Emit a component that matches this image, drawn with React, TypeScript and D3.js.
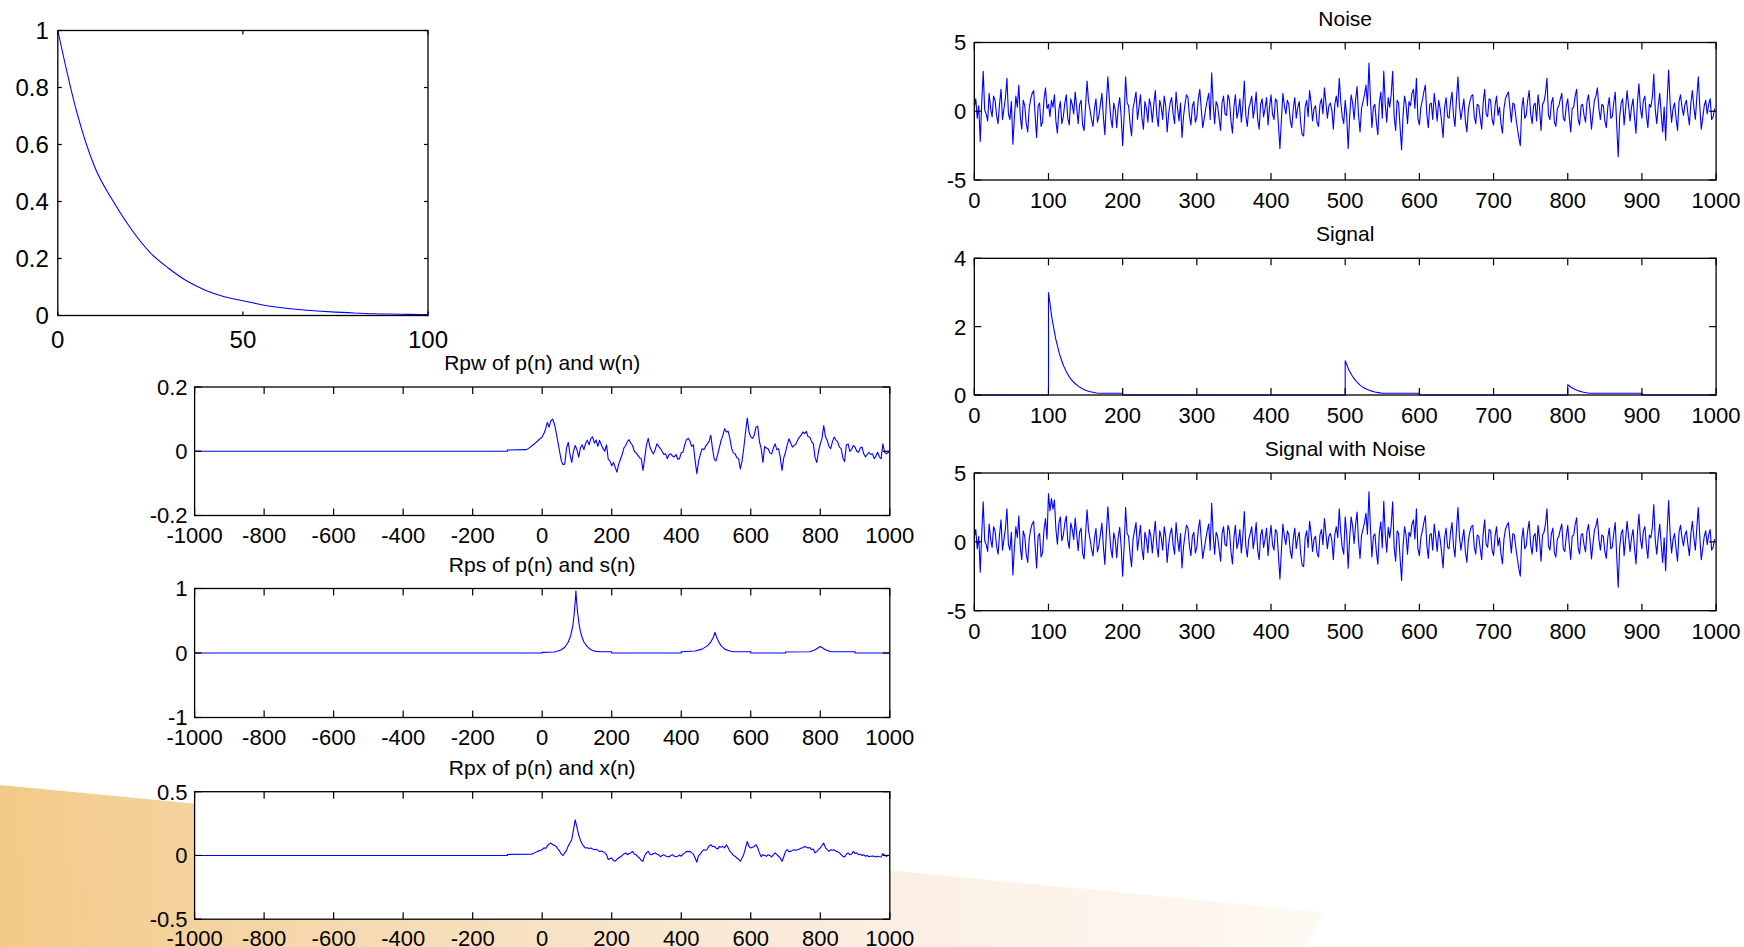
import React from 'react';
import * as d3 from 'd3';

const FONT = '"Liberation Sans", Arial, Helvetica, sans-serif';

// ---------- Data ----------
// Exponential kernel p(n), n = 0..100 step 5
const DECAY_N = [0, 5, 10, 15, 20, 25, 30, 35, 40, 45, 50, 55, 60, 65, 70, 75, 80, 85, 90, 95, 100];
const DECAY_VALUES = [1.0, 0.72, 0.52, 0.4, 0.3, 0.22, 0.165, 0.12, 0.088, 0.066, 0.052, 0.038, 0.028, 0.021, 0.016, 0.012, 0.009, 0.006, 0.005, 0.004, 0.003];

// Rpw: head (negative lags) + values every 5 lags from 0 to 1000
const RPW_HEAD_LAGS = [-1000, -100, -100, -45, -35, -20, -10];
const RPW_HEAD_VALUES = [0, 0, 0.004, 0.005, 0.012, 0.025, 0.035];
const RPW_STEP = 5;
const RPW_VALUES = [
  0.045, 0.055, 0.07, 0.09, 0.075, 0.095, 0.1, 0.085, 0.06, 0.03,
  0.0, -0.03, -0.042, -0.04, 0.01, 0.028, -0.01, -0.035, 0.0, 0.018,
  0.005, -0.018, 0.01, 0.02, 0.005, 0.025, 0.034, 0.02, 0.04, 0.045,
  0.025, 0.035, 0.015, 0.034, 0.02, 0.008, 0.0, 0.02, -0.025, -0.03,
  -0.045, -0.035, -0.05, -0.065, -0.04, -0.025, -0.01, 0.01, 0.018, 0.03,
  0.036, 0.025, 0.018, 0.0, -0.005, -0.012, -0.02, -0.023, -0.06, -0.02,
  0.02, 0.04, 0.013, 0.0, -0.008, 0.005, 0.023, 0.015, 0.008, 0.0,
  -0.01, -0.008, -0.023, -0.01, -0.008, -0.015, -0.018, -0.01, -0.025, -0.023,
  -0.005, -0.003, 0.02, 0.036, 0.04, 0.032, 0.015, 0.02, -0.03, -0.07,
  -0.03, -0.01, 0.008, 0.005, 0.015, 0.023, 0.03, 0.05, 0.008, -0.025,
  -0.03, -0.01, 0.013, 0.035, 0.05, 0.07, 0.06, 0.062, 0.04, 0.008,
  -0.005, -0.008, -0.02, -0.023, -0.055, -0.03, 0.01, 0.06, 0.103, 0.06,
  0.045, 0.04, 0.05, 0.075, 0.078, 0.03, 0.008, -0.035, 0.015, 0.01,
  0.008, -0.005, -0.008, 0.01, 0.023, 0.005, 0.008, -0.02, -0.06, -0.02,
  -0.003, 0.02, 0.039, 0.025, 0.013, 0.018, 0.023, 0.035, 0.044, 0.05,
  0.06, 0.055, 0.062, 0.045, 0.044, 0.03, 0.023, -0.02, -0.035, 0.0,
  0.023, 0.04, 0.08, 0.045, 0.034, 0.015, 0.008, 0.03, 0.044, 0.035,
  0.029, 0.013, 0.008, -0.02, -0.032, 0.02, 0.023, 0.0, 0.005, 0.018,
  0.013, 0.0, -0.003, 0.01, 0.013, -0.008, -0.018, -0.01, -0.003, -0.01,
  -0.008, -0.023, -0.015, -0.003, -0.018, -0.023, 0.023, -0.003, -0.008, -0.003,
  -0.005,
];

// Rps: cross-correlation of p(n) and s(n)
const RPS_LAGS = [-1000, 0, 0, 20, 35, 45, 55, 65, 75, 82, 88, 92, 95, 97, 99, 102, 106, 110, 115, 120, 128, 135, 145, 155, 170, 200, 200, 400, 400, 440, 460, 475, 485, 492, 497, 502, 508, 515, 525, 540, 550, 600, 600, 700, 700, 770, 785, 800, 815, 830, 900, 900, 1000];
const RPS_VALUES = [0, 0, 0.01, 0.012, 0.015, 0.03, 0.05, 0.09, 0.17, 0.27, 0.42, 0.6, 0.8, 0.96, 0.8, 0.62, 0.45, 0.33, 0.24, 0.17, 0.11, 0.07, 0.04, 0.025, 0.02, 0.02, 0, 0, 0.02, 0.03, 0.06, 0.11, 0.17, 0.24, 0.32, 0.24, 0.17, 0.11, 0.06, 0.03, 0.02, 0.02, 0, 0, 0.015, 0.02, 0.05, 0.1, 0.05, 0.02, 0.02, 0, 0];

// Rpx: head (negative lags) + values every 5 lags from 0 to 1000
const RPX_HEAD_LAGS = [-1000, -100, -100, -30, -15, -5];
const RPX_HEAD_VALUES = [0, 0, 0.008, 0.01, 0.03, 0.04];
const RPX_STEP = 5;
const RPX_VALUES = [
  0.045, 0.06, 0.055, 0.075, 0.09, 0.097, 0.085, 0.08, 0.071, 0.05,
  0.035, 0.01, 0.0, 0.02, 0.04, 0.075, 0.1, 0.123, 0.2, 0.28,
  0.22, 0.16, 0.12, 0.09, 0.07, 0.058, 0.06, 0.055, 0.058, 0.05,
  0.045, 0.048, 0.04, 0.032, 0.035, 0.03, 0.02, 0.006, -0.032, -0.025,
  -0.02, -0.04, -0.045, -0.03, -0.02, -0.01, 0.0, 0.012, 0.02, 0.006,
  0.015, 0.02, 0.032, 0.01, 0.006, -0.01, -0.02, -0.04, -0.045, 0.0,
  0.02, 0.032, 0.01, 0.005, 0.015, 0.02, 0.01, 0.005, -0.01, 0.0,
  0.006, -0.005, -0.006, -0.012, 0.0, 0.006, -0.006, -0.01, -0.006, 0.005,
  -0.006, 0.01, 0.02, 0.032, 0.03, 0.032, 0.02, 0.01, -0.02, -0.053,
  0.0, 0.01, 0.032, 0.045, 0.04, 0.05, 0.075, 0.084, 0.07, 0.071,
  0.058, 0.05, 0.071, 0.065, 0.071, 0.06, 0.084, 0.06, 0.032, 0.02,
  0.0, -0.006, -0.02, -0.03, -0.045, -0.02, 0.01, 0.06, 0.11, 0.07,
  0.058, 0.065, 0.071, 0.084, 0.06, 0.02, -0.01, 0.006, 0.0, -0.006,
  0.006, 0.0, -0.012, 0.005, 0.02, 0.006, -0.006, -0.02, -0.045, -0.01,
  0.032, 0.045, 0.03, 0.032, 0.04, 0.045, 0.04, 0.045, 0.05, 0.058,
  0.06, 0.071, 0.065, 0.058, 0.062, 0.045, 0.05, 0.02, 0.032, 0.045,
  0.06, 0.08, 0.097, 0.06, 0.045, 0.032, 0.045, 0.04, 0.045, 0.032,
  0.03, 0.02, 0.006, -0.006, -0.012, 0.01, 0.02, 0.006, 0.01, 0.032,
  0.015, 0.02, 0.006, 0.01, 0.0, 0.006, -0.006, 0.0, -0.01, -0.006,
  -0.005, -0.006, -0.012, -0.006, -0.01, -0.012, 0.015, 0.0, -0.006, 0.0,
  0.0,
];

// Noise w(n), one value every 2 samples
const NOISE_STEP = 2;
const NOISE = [
  0.3, 0.9, -0.5, 0.4, -2.2, 0.6, 2.9, 0.1, -0.2, -0.7, 1.3, 0.2, -0.4, 1.1, 0.8, -0.3, -0.9, 0.5, 1.6, -0.6,
  0.2, 1.0, 2.4, -0.2, -0.6, 0.7, -2.4, -0.5, 1.1, 0.3, 1.9, -0.4, -1.3, 0.8, 0.4, -0.9, -1.5, 0.2, 0.9, 1.3,
  1.5, -0.3, -1.9, 0.4, 0.6, -1.1, -0.8, 0.9, 1.7, 0.2, 0.5, -0.4, 0.8, 0.3, 1.2, -0.7, -1.6, 0.1, 0.7, -0.9,
  -0.4, 0.6, 1.2, -0.5, -1.0, 0.9, 0.5, -0.2, 1.4, 0.3, -0.9, 0.5, 0.8, -1.0, -1.4, 0.4, 2.2, 0.7, 0.1, -0.6,
  -1.1, 0.2, 0.9, -0.8, -0.3, 0.5, 1.3, -0.4, -1.7, 0.6, 2.5, 0.9, -0.5, -1.2, 0.6, 0.1, -1.2, 0.3, 1.0, -0.4,
  -2.5, -0.3, 2.5, 0.6, 0.4, -0.9, -1.8, 0.2, 0.8, 1.4, -0.6, 0.3, 1.2, -0.5, -1.3, 0.7, 0.2, -0.8, 0.9, 0.4,
  -0.8, 0.5, 1.5, -0.3, -1.1, 0.8, 0.3, -0.6, 1.1, 0.4, -1.5, -0.2, 0.6, 1.0, -0.2, -0.9, 1.4, 0.2, -0.7, 0.6,
  -1.9, -0.4, 0.5, 1.2, 1.0, -0.3, -1.0, 0.4, 0.7, -0.8, -0.4, 0.9, 1.6, 0.1, -1.2, -0.5, 0.2, 0.8, 1.3, -0.6,
  2.8, 0.5, -0.9, 0.7, 0.4, -0.5, -1.4, 0.6, 1.1, -0.2, -0.3, 1.2, 0.8, -0.7, -1.6, 0.3, 1.2, -0.5, 0.0, 0.9,
  -0.8, 0.4, 2.2, -0.3, -1.1, 0.2, 0.6, 1.1, -0.5, 0.3, 1.4, -0.6, -1.3, 0.5, 0.9, -0.4, 0.2, 1.0, -1.0, 0.3,
  1.2, -0.2, -0.6, 0.9, 0.7, -1.0, -2.7, -0.6, 1.3, 0.4, -0.2, 0.8, 0.5, -0.7, -1.2, 0.2, 1.0, -0.5, 0.3, 0.7,
  -0.9, -1.7, -1.8, 0.3, 0.8, -0.4, 1.5, 0.6, -0.7, 0.2, 0.4, -0.8, -1.1, 0.5, 0.9, -0.2, 1.7, 0.6, -0.5, 0.4,
  0.6, 0.1, -1.3, 0.5, 1.1, 0.3, 2.4, 0.7, -0.4, -0.9, 0.8, -0.3, -2.7, -0.4, 1.2, 0.6, -0.6, 0.8, 1.8, -0.3,
  -1.5, 0.2, 0.7, 1.2, 1.9, 0.4, 3.5, 0.9, -1.2, 0.3, 0.5, -0.8, -1.7, 0.6, 1.4, -0.5, 2.9, 0.5, -0.8, 1.0,
  0.3, 1.2, 2.9, -0.4, -1.4, 0.8, 0.6, -1.2, -2.8, -0.3, 1.1, 0.5, -0.9, 0.7, 0.4, 1.3, 1.6, 0.2, 2.4, -0.5,
  -1.0, 0.3, 0.8, 1.4, 1.9, -0.2, -1.2, 0.5, 0.6, -0.6, 1.3, 0.4, -0.7, 0.8, 0.2, -0.8, -1.9, 0.3, 1.0, -0.4,
  -0.5, 0.7, 1.4, -0.3, -1.1, 0.9, 2.5, 0.4, -0.6, 0.2, 0.9, -0.7, -1.5, 0.1, 0.7, 1.1, 1.2, -0.4, -0.9, 0.5,
  0.4, -0.5, -1.3, 0.6, 1.6, -0.2, -0.4, 0.9, 0.8, -0.6, -1.0, 0.4, 1.1, -0.3, 0.3, -0.9, -1.6, 0.2, 0.9, 1.2,
  1.4, 0.3, -0.8, 0.6, 0.5, -0.4, -1.2, -1.9, -2.5, 0.2, 1.0, -0.5, -0.3, 0.8, 1.5, -0.2, -0.9, 0.4, 0.6, -0.7,
  1.2, 0.2, -1.4, 0.5, 0.7, 1.3, 2.4, -0.3, -0.6, 0.6, 1.0, -0.8, -1.1, 0.2, 0.4, 0.9, 1.3, -0.5, -0.7, 0.4,
  0.9, -0.4, -1.5, 0.2, 0.3, 1.1, 1.6, -0.6, -1.0, 0.4, 0.5, -0.3, -0.8, 0.7, 1.2, 0.1, -1.3, -0.2, 0.8, 1.1,
  1.7, 0.2, -0.6, 0.5, 0.4, -0.7, -1.2, 0.3, 1.0, -0.5, -0.4, 0.6, 1.4, -1.0, -3.3, -0.4, 0.6, 0.9, -1.0, 0.2,
  1.5, 0.4, -0.7, 0.3, 0.9, -0.5, -1.6, 0.7, 2.0, 0.2, -0.5, 0.8, 1.1, -0.3, -1.2, 0.5, 0.3, 1.0, 2.7, 0.1,
  -0.9, 0.4, 1.3, -0.2, -1.5, 0.3, -2.1, 0.8, 3.0, 0.6, -0.8, 0.2, 0.6, -0.5, -1.4, 0.7, 1.2, 0.3, -0.3, 0.5,
  0.8, -0.2, -1.0, 0.6, 1.5, 0.3, -0.6, 1.0, 2.5, 0.4, -1.3, -0.5, 0.4, 0.8, -0.2, 0.5, 0.9, -0.6, -0.4, 0.2,
];

// Signal s(n): breakpoints
const SIGNAL_N = [0, 100, 100, 105, 110, 115, 120, 125, 130, 135, 140, 145, 150, 155, 160, 165, 170, 200, 200,
  500, 500, 505, 510, 515, 520, 525, 530, 535, 540, 545, 550, 600, 600,
  800, 800, 805, 810, 815, 820, 825, 830, 900, 900, 1000];
const SIGNAL_VALUES = [0, 0, 3.0, 2.2, 1.62, 1.19, 0.87, 0.64, 0.47, 0.35, 0.26, 0.19, 0.14, 0.1, 0.08, 0.06, 0.05, 0.05, 0,
  0, 1.0, 0.73, 0.54, 0.4, 0.29, 0.21, 0.16, 0.12, 0.09, 0.07, 0.05, 0.05, 0,
  0, 0.3, 0.22, 0.16, 0.12, 0.09, 0.065, 0.05, 0.05, 0, 0];

// Signal with noise x(n), one value every 2 samples
const SWN_STEP = 2;
const SIGNAL_WITH_NOISE = [
  0.3, 0.9, -0.5, 0.4, -2.2, 0.6, 2.9, 0.1, -0.2, -0.7, 1.3, 0.2, -0.4, 1.1, 0.8, -0.3, -0.9, 0.5, 1.6, -0.6,
  0.2, 1.0, 2.4, -0.2, -0.6, 0.7, -2.4, -0.5, 1.1, 0.3, 1.9, -0.4, -1.3, 0.8, 0.4, -0.9, -1.5, 0.2, 0.9, 1.3,
  1.5, -0.3, -1.9, 0.4, 0.6, -1.1, -0.8, 0.9, 1.7, 0.2, 3.5, 2.25, 3.14, 2.37, 3.03, 0.92, -0.17, 1.36, 1.81, 0.08,
  0.47, 1.37, 1.88, 0.1, -0.47, 1.37, 0.91, 0.16, 1.72, 0.58, -0.65, 0.72, 1.0, -0.83, -1.25, 0.54, 2.32, 0.81, 0.2, -0.51,
  -1.02, 0.28, 0.97, -0.73, -0.24, 0.56, 1.36, -0.35, -1.65, 0.65, 2.55, 0.95, -0.45, -1.15, 0.65, 0.15, -1.15, 0.35, 1.05, -0.35,
  -2.5, -0.3, 2.5, 0.6, 0.4, -0.9, -1.8, 0.2, 0.8, 1.4, -0.6, 0.3, 1.2, -0.5, -1.3, 0.7, 0.2, -0.8, 0.9, 0.4,
  -0.8, 0.5, 1.5, -0.3, -1.1, 0.8, 0.3, -0.6, 1.1, 0.4, -1.5, -0.2, 0.6, 1.0, -0.2, -0.9, 1.4, 0.2, -0.7, 0.6,
  -1.9, -0.4, 0.5, 1.2, 1.0, -0.3, -1.0, 0.4, 0.7, -0.8, -0.4, 0.9, 1.6, 0.1, -1.2, -0.5, 0.2, 0.8, 1.3, -0.6,
  2.8, 0.5, -0.9, 0.7, 0.4, -0.5, -1.4, 0.6, 1.1, -0.2, -0.3, 1.2, 0.8, -0.7, -1.6, 0.3, 1.2, -0.5, 0.0, 0.9,
  -0.8, 0.4, 2.2, -0.3, -1.1, 0.2, 0.6, 1.1, -0.5, 0.3, 1.4, -0.6, -1.3, 0.5, 0.9, -0.4, 0.2, 1.0, -1.0, 0.3,
  1.2, -0.2, -0.6, 0.9, 0.7, -1.0, -2.7, -0.6, 1.3, 0.4, -0.2, 0.8, 0.5, -0.7, -1.2, 0.2, 1.0, -0.5, 0.3, 0.7,
  -0.9, -1.7, -1.8, 0.3, 0.8, -0.4, 1.5, 0.6, -0.7, 0.2, 0.4, -0.8, -1.1, 0.5, 0.9, -0.2, 1.7, 0.6, -0.5, 0.4,
  0.6, 0.1, -1.3, 0.5, 1.1, 0.3, 2.4, 0.7, -0.4, -0.9, 1.8, 0.58, -1.92, 0.29, 1.81, 1.14, -0.12, 1.22, 2.17, 0.03,
  -1.21, 0.46, 0.93, 1.4, 2.08, 0.56, 3.64, 1.02, -1.09, 0.4, 0.59, -0.72, -1.63, 0.66, 1.45, -0.45, 2.95, 0.55, -0.75, 1.05,
  0.3, 1.2, 2.9, -0.4, -1.4, 0.8, 0.6, -1.2, -2.8, -0.3, 1.1, 0.5, -0.9, 0.7, 0.4, 1.3, 1.6, 0.2, 2.4, -0.5,
  -1.0, 0.3, 0.8, 1.4, 1.9, -0.2, -1.2, 0.5, 0.6, -0.6, 1.3, 0.4, -0.7, 0.8, 0.2, -0.8, -1.9, 0.3, 1.0, -0.4,
  -0.5, 0.7, 1.4, -0.3, -1.1, 0.9, 2.5, 0.4, -0.6, 0.2, 0.9, -0.7, -1.5, 0.1, 0.7, 1.1, 1.2, -0.4, -0.9, 0.5,
  0.4, -0.5, -1.3, 0.6, 1.6, -0.2, -0.4, 0.9, 0.8, -0.6, -1.0, 0.4, 1.1, -0.3, 0.3, -0.9, -1.6, 0.2, 0.9, 1.2,
  1.4, 0.3, -0.8, 0.6, 0.5, -0.4, -1.2, -1.9, -2.5, 0.2, 1.0, -0.5, -0.3, 0.8, 1.5, -0.2, -0.9, 0.4, 0.6, -0.7,
  1.2, 0.2, -1.4, 0.5, 0.7, 1.3, 2.4, -0.3, -0.6, 0.6, 1.0, -0.8, -1.1, 0.2, 0.4, 0.9, 1.3, -0.5, -0.7, 0.4,
  1.2, -0.14, -1.27, 0.41, 0.49, 1.26, 1.75, -0.47, -0.88, 0.5, 0.59, -0.22, -0.73, 0.76, 1.25, 0.15, -1.25, -0.15, 0.85, 1.15,
  1.7, 0.2, -0.6, 0.5, 0.4, -0.7, -1.2, 0.3, 1.0, -0.5, -0.4, 0.6, 1.4, -1.0, -3.3, -0.4, 0.6, 0.9, -1.0, 0.2,
  1.5, 0.4, -0.7, 0.3, 0.9, -0.5, -1.6, 0.7, 2.0, 0.2, -0.5, 0.8, 1.1, -0.3, -1.2, 0.5, 0.3, 1.0, 2.7, 0.1,
  -0.9, 0.4, 1.3, -0.2, -1.5, 0.3, -2.1, 0.8, 3.0, 0.6, -0.8, 0.2, 0.6, -0.5, -1.4, 0.7, 1.2, 0.3, -0.3, 0.5,
  0.8, -0.2, -1.0, 0.6, 1.5, 0.3, -0.6, 1.0, 2.5, 0.4, -1.3, -0.5, 0.4, 0.8, -0.2, 0.5, 0.9, -0.6, -0.4, 0.2,
];

// Tick labels
const TL_X_TICKS = [0, 50, 100];
const TL_Y_TICKS = [0, 0.2, 0.4, 0.6, 0.8, 1];
const LAG_TICKS = [-1000, -800, -600, -400, -200, 0, 200, 400, 600, 800, 1000];
const N_TICKS = [0, 100, 200, 300, 400, 500, 600, 700, 800, 900, 1000];
const RPW_Y_TICKS = [-0.2, 0, 0.2];
const RPS_Y_TICKS = [-1, 0, 1];
const RPX_Y_TICKS = [-0.5, 0, 0.5];
const NOISE_Y_TICKS = [-5, 0, 5];
const SIGNAL_Y_TICKS = [0, 2, 4];

type Pt = [number, number];

const zipPts = (xs: number[], ys: number[]): Pt[] => xs.map((v, i) => [v, ys[i]] as Pt);
const stepPts = (start: number, step: number, ys: number[]): Pt[] => ys.map((v, i) => [start + i * step, v] as Pt);

interface PanelProps {
  left: number; top: number; width: number; height: number;
  xDomain: [number, number]; yDomain: [number, number];
  xTicks: number[]; yTicks: number[];
  points: Pt[];
  title?: string;
  tickFont: number; titleFont: number; tickLen: number;
  xLabelGap: number; yLabelGap: number;
  curve?: d3.CurveFactory;
}

function Panel(p: PanelProps) {
  const x = d3.scaleLinear().domain(p.xDomain).range([p.left, p.left + p.width]);
  const y = d3.scaleLinear().domain(p.yDomain).range([p.top + p.height, p.top]);
  const line = d3.line<Pt>().x(d => x(d[0])).y(d => y(d[1])).curve(p.curve ?? d3.curveLinear);
  const bottom = p.top + p.height;
  const right = p.left + p.width;
  const tl = p.tickLen;
  return (
    <g>
      <rect x={p.left} y={p.top} width={p.width} height={p.height} fill="#ffffff" />
      <path d={line(p.points) ?? ''} fill="none" stroke="#0000ff" strokeWidth={1.1} strokeLinejoin="round" />
      <g stroke="#000" strokeWidth={1.2}>
        {p.xTicks.map(t => (
          <g key={'xt' + t}>
            <line x1={x(t)} x2={x(t)} y1={bottom} y2={bottom - tl} />
            <line x1={x(t)} x2={x(t)} y1={p.top} y2={p.top + tl} />
          </g>
        ))}
        {p.yTicks.map(t => (
          <g key={'yt' + t}>
            <line x1={p.left} x2={p.left + tl} y1={y(t)} y2={y(t)} />
            <line x1={right} x2={right - tl} y1={y(t)} y2={y(t)} />
          </g>
        ))}
      </g>
      <rect x={p.left} y={p.top} width={p.width} height={p.height} fill="none" stroke="#000" strokeWidth={1.3} />
      <g fontFamily={FONT} fontSize={p.tickFont} fill="#000">
        {p.xTicks.map(t => (
          <text key={'xl' + t} x={x(t)} y={bottom + p.xLabelGap} textAnchor="middle">{String(t)}</text>
        ))}
        {p.yTicks.map(t => (
          <text key={'yl' + t} x={p.left - p.yLabelGap} y={y(t)} dy="0.36em" textAnchor="end">{String(t)}</text>
        ))}
      </g>
      {p.title && (
        <text x={p.left + p.width / 2} y={p.top - 17} textAnchor="middle" fontFamily={FONT} fontSize={p.titleFont} fill="#000">{p.title}</text>
      )}
    </g>
  );
}

export default function App() {
  const W = 1744, H = 947;
  const lagCommon = {
    left: 194.6, width: 695.2,
    xDomain: [-1000, 1000] as [number, number],
    xTicks: LAG_TICKS, tickFont: 22, titleFont: 21, tickLen: 7, xLabelGap: 27, yLabelGap: 7,
  };
  const nCommon = {
    left: 974.3, width: 741.8,
    xDomain: [0, 1000] as [number, number],
    xTicks: N_TICKS, tickFont: 22, titleFont: 21, tickLen: 7, xLabelGap: 28, yLabelGap: 8,
  };
  return (
    <svg width={W} height={H} style={{ position: 'absolute', left: 0, top: 0, background: '#fff' }}>
      <defs>
        <linearGradient id="bgGrad" x1="0" y1="900" x2="1320" y2="830" gradientUnits="userSpaceOnUse">
          <stop offset="0" stopColor="#f3c987" />
          <stop offset="0.3" stopColor="#f6dcb6" />
          <stop offset="0.65" stopColor="#fbeee1" />
          <stop offset="1" stopColor="#fef9f4" />
        </linearGradient>
      </defs>
      <rect x={0} y={0} width={W} height={H} fill="#fff" />
      <polygon points="0,785 1323,912 1306,947 0,947" fill="url(#bgGrad)" />

      <Panel left={57.8} top={30.5} width={370.2} height={285}
        xDomain={[0, 100]} yDomain={[0, 1]} xTicks={TL_X_TICKS} yTicks={TL_Y_TICKS}
        points={zipPts(DECAY_N, DECAY_VALUES)} tickFont={24} titleFont={21} tickLen={4}
        xLabelGap={32} yLabelGap={9} curve={d3.curveMonotoneX} />

      <Panel {...lagCommon} top={387} height={128.5} yDomain={[-0.2, 0.2]} yTicks={RPW_Y_TICKS}
        title="Rpw of p(n) and w(n)"
        points={[...zipPts(RPW_HEAD_LAGS, RPW_HEAD_VALUES), ...stepPts(0, RPW_STEP, RPW_VALUES)]} />

      <Panel {...lagCommon} top={588.5} height={129} yDomain={[-1, 1]} yTicks={RPS_Y_TICKS}
        title="Rps of p(n) and s(n)" points={zipPts(RPS_LAGS, RPS_VALUES)} />

      <Panel {...lagCommon} top={791.7} height={127.5} yDomain={[-0.5, 0.5]} yTicks={RPX_Y_TICKS}
        title="Rpx of p(n) and x(n)"
        points={[...zipPts(RPX_HEAD_LAGS, RPX_HEAD_VALUES), ...stepPts(0, RPX_STEP, RPX_VALUES)]} />

      <Panel {...nCommon} top={42.5} height={137.5} yDomain={[-5, 5]} yTicks={NOISE_Y_TICKS}
        title="Noise" points={stepPts(0, NOISE_STEP, NOISE)} />

      <Panel {...nCommon} top={258.3} height={136.7} yDomain={[0, 4]} yTicks={SIGNAL_Y_TICKS}
        title="Signal" points={zipPts(SIGNAL_N, SIGNAL_VALUES)} />

      <Panel {...nCommon} top={473} height={137.7} yDomain={[-5, 5]} yTicks={NOISE_Y_TICKS}
        title="Signal with Noise" points={stepPts(0, SWN_STEP, SIGNAL_WITH_NOISE)} />
    </svg>
  );
}
